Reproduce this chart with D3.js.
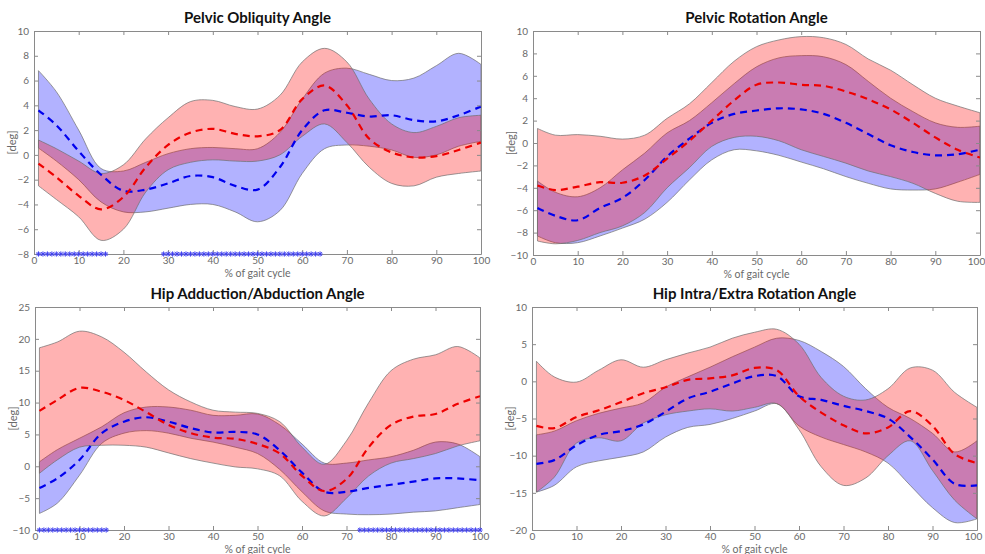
<!DOCTYPE html>
<html>
<head>
<meta charset="utf-8">
<script src="https://cdn.jsdelivr.net/npm/d3@7"></script>
<style>
  body { margin: 0; background: #fff; }
  svg { display: block; }
  text { font-family: "Lato", "Noto Sans", sans-serif; }
</style>
</head>
<body>
<svg id="chart" width="985" height="554"></svg>
<script>
// % of gait cycle at which each curve is sampled
const pct = [1, 5, 10, 15, 20, 25, 30, 35, 40, 45, 50, 55, 60, 65, 70, 75, 80, 85, 90, 95, 100];
const xTicks = [0, 10, 20, 30, 40, 50, 60, 70, 80, 90, 100];

// Pelvic obliquity [deg]
const obliqBlueMean = [3.6, 2.4, 0.3, -1.6, -2.9, -2.8, -2.3, -1.7, -1.8, -2.5, -2.8, -1.0, 2.0, 3.6, 3.4, 3.1, 3.2, 2.8, 2.7, 3.2, 3.9];
const obliqBlueUp   = [6.8, 5.1, 2.0, -1.1, -1.3, -0.6, 0.1, 0.5, 0.6, 0.5, 0.5, 1.8, 4.5, 6.6, 7.0, 6.5, 6.0, 6.2, 7.2, 8.2, 7.3];
const obliqBlueLo   = [0.55, -0.5, -2.0, -3.8, -4.6, -4.6, -4.3, -4.0, -4.0, -4.6, -5.4, -4.5, -1.5, 0.5, 0.8, 0.7, 0.4, -0.2, 0.0, 0.7, 1.1];
const obliqRedMean  = [-0.7, -1.8, -3.3, -4.4, -3.4, -1.0, 0.8, 1.8, 2.1, 1.7, 1.5, 2.0, 4.5, 5.6, 4.0, 1.3, 0.2, -0.2, -0.1, 0.4, 1.0];
const obliqRedUp    = [1.2, 0.5, -0.5, -1.5, -0.8, 1.3, 3.0, 4.3, 4.4, 3.9, 3.7, 4.8, 7.5, 8.6, 7.5, 4.5, 2.5, 1.8, 2.3, 3.0, 3.2];
const obliqRedLo    = [-2.5, -3.6, -5.0, -6.9, -6.0, -3.0, -1.2, -0.6, -0.4, -0.5, -0.5, 0.0, 1.5, 2.5, 1.0, -1.0, -2.3, -2.5, -1.8, -1.5, -1.3];
const obliqYTicks   = [-8, -6, -4, -2, 0, 2, 4, 6, 8, 10];
const obliqSig      = [[1, 16], [29, 64]];

// Pelvic rotation [deg]
const rotBlueMean = [-5.8, -6.5, -6.9, -5.8, -4.9, -3.3, -1.2, 0.4, 1.8, 2.6, 2.9, 3.1, 3.0, 2.6, 1.8, 0.8, -0.2, -0.8, -1.1, -1.0, -0.6];
const rotBlueUp   = [-3.4, -4.4, -4.8, -4.0, -2.4, -0.9, 0.9, 2.0, 3.6, 5.3, 6.8, 7.6, 7.8, 7.7, 7.0, 5.5, 4.0, 2.8, 1.8, 1.4, 1.5];
const rotBlueLo   = [-8.3, -8.9, -8.9, -8.3, -7.6, -6.8, -5.3, -3.3, -1.5, -0.6, -0.7, -1.1, -1.7, -2.3, -3.0, -3.6, -4.1, -4.2, -4.1, -3.5, -2.8];
const rotRedMean  = [-3.8, -4.2, -3.9, -3.5, -3.55, -2.9, -1.4, 0.2, 2.0, 3.8, 5.2, 5.4, 5.2, 5.1, 4.6, 3.9, 3.0, 1.8, 0.5, -0.6, -1.3];
const rotRedUp    = [1.3, 0.7, 0.75, 0.6, 0.35, 0.7, 2.2, 3.5, 5.4, 7.3, 8.6, 9.2, 9.5, 9.4, 8.8, 7.5, 6.5, 5.2, 4.0, 3.3, 2.7];
const rotRedLo    = [-8.75, -9.0, -8.7, -8.0, -7.4, -6.2, -4.0, -2.2, -0.3, 0.5, 0.6, 0.2, -0.6, -1.2, -1.8, -2.5, -3.0, -3.6, -4.5, -5.2, -5.3];
const rotYTicks   = [-10, -8, -6, -4, -2, 0, 2, 4, 6, 8, 10];
const rotSig      = [];

// Hip adduction/abduction [deg]
const addBlueMean = [-3.4, -1.9, 1.0, 5.2, 7.0, 7.7, 7.0, 6.0, 5.3, 5.4, 5.0, 2.5, -1.0, -4.0, -4.0, -3.4, -2.9, -2.4, -1.9, -1.9, -2.2];
const addBlueUp   = [0.7, 2.6, 4.4, 6.2, 8.4, 9.3, 9.3, 8.8, 8.0, 8.0, 8.2, 6.5, 3.5, 0.5, 0.5, 1.0, 1.5, 2.5, 3.8, 3.5, 1.5];
const addBlueLo   = [-7.4, -5.8, -1.4, 3.6, 5.2, 5.6, 5.2, 4.4, 3.8, 3.0, 2.0, -0.5, -4.0, -7.0, -7.5, -7.6, -7.5, -7.2, -7.0, -6.5, -6.0];
const addRedMean  = [8.7, 10.4, 12.3, 11.7, 10.4, 8.5, 6.5, 5.2, 4.5, 4.3, 3.5, 2.0, -1.5, -3.9, -2.0, 3.0, 6.5, 7.8, 8.2, 9.8, 11.0];
const addRedUp    = [18.6, 19.5, 21.2, 20.3, 17.9, 14.8, 12.0, 10.1, 8.8, 8.5, 8.3, 7.0, 3.0, 0.3, 4.0, 10.0, 15.0, 16.8, 17.5, 18.8, 17.0];
const addRedLo    = [-1.1, 1.0, 3.0, 3.3, 3.3, 3.0, 2.1, 1.2, 0.5, -0.1, -0.4, -1.5, -5.5, -7.8, -5.0, -1.5, 0.5, 1.2, 2.0, 3.2, 4.0];
const addYTicks   = [-10, -5, 0, 5, 10, 15, 20, 25];
const addSig      = [[1, 16], [73, 100]];

// Hip intra/extra rotation [deg]
const hrotBlueMean = [-11.1, -10.6, -8.6, -7.2, -6.7, -5.8, -4.1, -2.3, -1.4, -0.3, 0.7, 0.7, -2.0, -2.5, -3.3, -4.0, -5.0, -7.5, -10.5, -13.8, -14.0];
const hrotBlueUp   = [-7.2, -6.7, -5.3, -4.3, -3.6, -2.9, -0.8, 0.6, 1.9, 3.3, 4.6, 5.8, 5.5, 4.0, 2.0, -1.0, -3.5, -5.0, -7.0, -9.5, -8.0];
const hrotBlueLo   = [-14.9, -14.0, -11.5, -10.7, -10.2, -9.5, -7.5, -6.2, -5.8, -5.0, -4.0, -3.0, -6.0, -7.5, -8.5, -9.5, -11.0, -14.0, -17.0, -19.0, -18.5];
const hrotRedMean  = [-6.0, -6.3, -4.8, -3.9, -2.8, -1.6, -0.8, 0.2, 0.4, 0.8, 1.8, 1.5, -2.0, -4.2, -5.9, -7.0, -6.2, -4.0, -6.0, -9.8, -11.0];
const hrotRedUp    = [2.7, 0.6, -0.1, 1.5, 2.9, 1.9, 2.9, 3.8, 4.6, 5.8, 6.6, 7.0, 5.0, 0.5, -2.0, -2.5, -1.0, 1.8, 1.5, -1.5, -3.5];
const hrotRedLo    = [-14.9, -12.9, -8.3, -7.6, -8.0, -5.6, -4.5, -4.0, -3.7, -4.0, -3.5, -3.0, -6.5, -11.5, -14.0, -13.0, -10.0, -8.0, -12.0, -16.0, -18.5];
const hrotYTicks   = [-20, -15, -10, -5, 0, 5, 10];
const hrotSig      = [];

const panels = [
  { title: "Pelvic Obliquity Angle", left: 34, right: 481, top: 31, bottom: 254, yTicks: obliqYTicks, sig: obliqSig,
    blue: [obliqBlueLo, obliqBlueMean, obliqBlueUp], red: [obliqRedLo, obliqRedMean, obliqRedUp] },
  { title: "Pelvic Rotation Angle", left: 533, right: 980, top: 31, bottom: 255, yTicks: rotYTicks, sig: rotSig,
    blue: [rotBlueLo, rotBlueMean, rotBlueUp], red: [rotRedLo, rotRedMean, rotRedUp] },
  { title: "Hip Adduction/Abduction Angle", left: 35, right: 480, top: 307, bottom: 530, yTicks: addYTicks, sig: addSig,
    blue: [addBlueLo, addBlueMean, addBlueUp], red: [addRedLo, addRedMean, addRedUp] },
  { title: "Hip Intra/Extra Rotation Angle", left: 532, right: 977, top: 307, bottom: 530, yTicks: hrotYTicks, sig: hrotSig,
    blue: [hrotBlueLo, hrotBlueMean, hrotBlueUp], red: [hrotRedLo, hrotRedMean, hrotRedUp] }
];

const svg = d3.select("#chart");
const axisGrey = "#8a8a8a";
const labelGrey = "#6a6a6a";
const curve = d3.curveCatmullRom.alpha(0.5);

panels.forEach(p => {
  const x = d3.scaleLinear().domain([0, 100]).range([p.left, p.right]);
  const y = d3.scaleLinear().domain(d3.extent(p.yTicks)).range([p.bottom, p.top]);
  const g = svg.append("g");

  const clipId = "clip-" + p.left + "-" + p.top;
  g.append("clipPath").attr("id", clipId)
    .append("rect").attr("x", p.left).attr("y", p.top)
    .attr("width", p.right - p.left).attr("height", p.bottom - p.top);
  const plot = g.append("g").attr("clip-path", `url(#${clipId})`);

  const band = (lo, hi) => d3.area()
    .x((d, i) => x(pct[i])).y0((d, i) => y(lo[i])).y1((d, i) => y(hi[i])).curve(curve)(pct);
  const line = vals => d3.line().x((d, i) => x(pct[i])).y((d, i) => y(vals[i])).curve(curve)(pct);

  // standard-deviation bands
  [[p.blue, "#0000ff"], [p.red, "#ff0000"]].forEach(([s, c]) => {
    plot.append("path").attr("d", band(s[0], s[2]))
      .attr("fill", c).attr("fill-opacity", 0.3)
      .attr("stroke", "#6e6e6e").attr("stroke-width", 0.7);
  });
  // mean curves
  [[p.blue, "#0000ee"], [p.red, "#ee0000"]].forEach(([s, c]) => {
    plot.append("path").attr("d", line(s[1]))
      .attr("fill", "none").attr("stroke", c).attr("stroke-width", 2.2)
      .attr("stroke-dasharray", "7,5");
  });

  // axes: box with inward ticks on all four sides
  const ax = g.append("g").attr("color", axisGrey);
  const bottomAxis = ax.append("g").attr("transform", `translate(0,${p.bottom})`)
    .call(d3.axisBottom(x).tickValues(xTicks).tickSize(-4).tickSizeOuter(0).tickPadding(3));
  if (p.right > 970) {
    // keep the last label inside the canvas
    bottomAxis.selectAll(".tick text").filter(d => d === 100).attr("dx", -4);
  }
  ax.append("g").attr("transform", `translate(0,${p.top})`)
    .call(d3.axisTop(x).tickValues(xTicks).tickSize(-4).tickSizeOuter(0).tickFormat(""));
  ax.append("g").attr("transform", `translate(${p.left},0)`)
    .call(d3.axisLeft(y).tickValues(p.yTicks).tickSize(-4).tickSizeOuter(0).tickPadding(5));
  ax.append("g").attr("transform", `translate(${p.right},0)`)
    .call(d3.axisRight(y).tickValues(p.yTicks).tickSize(-4).tickSizeOuter(0).tickFormat(""));
  ax.selectAll("text").attr("fill", labelGrey).attr("font-size", 10)
    .style("font-family", "'Lato', 'Noto Sans', sans-serif");
  ax.selectAll(".domain").attr("stroke", axisGrey);

  // significance markers along the bottom axis
  const sigPts = p.sig.flatMap(([a, b]) => d3.range(a, b + 1));
  const star = "M-2.6,0H2.6M0,-2.6V2.6M-1.9,-1.9L1.9,1.9M-1.9,1.9L1.9,-1.9";
  g.selectAll(".sig").data(sigPts).join("path")
    .attr("transform", d => `translate(${x(d)},${y(p.yTicks[0])})`)
    .attr("d", star).attr("fill", "none").attr("stroke", "#4040f0").attr("stroke-width", 1);

  const cx = (p.left + p.right) / 2;
  g.append("text").attr("x", cx).attr("y", p.top - 8).attr("text-anchor", "middle")
    .attr("font-size", 15).attr("font-weight", "bold").attr("fill", "#111").text(p.title);
  g.append("text").attr("x", cx).attr("y", p.bottom + 23).attr("text-anchor", "middle")
    .attr("font-size", 10.5).attr("fill", labelGrey).text("% of gait cycle");
  g.append("text").attr("transform", `translate(${p.left - 18},${(p.top + p.bottom) / 2}) rotate(-90)`)
    .attr("text-anchor", "middle").attr("font-size", 11).attr("fill", labelGrey).text("[deg]");
});
</script>
</body>
</html>
